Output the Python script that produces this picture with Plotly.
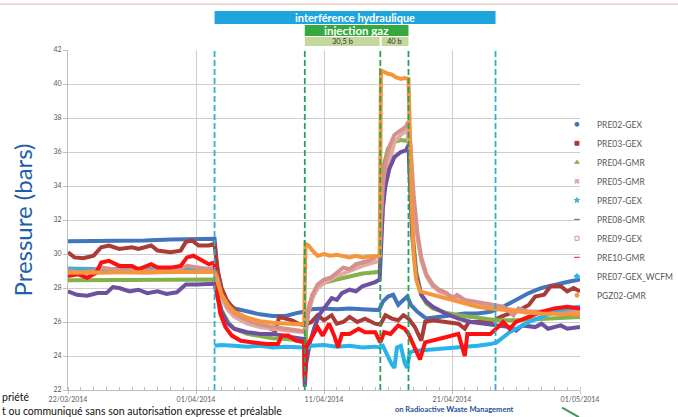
import pandas as pd
import plotly.graph_objects as go

START = pd.Timestamp("2014-03-22")

# ---- events (days after 22/03/2014 00:00) ----
interference = [11.45, 33.4]          # interférence hydraulique
injection = [18.5, 24.4, 26.6]         # start 30,5 b / start 40 b / end
stage_labels = ["30,5 b", "40 b"]
cyan_events = [11.45, 33.4]
green_events = [18.5, 24.4, 26.6]

# ---- series: day offsets and pressures (bar) ----
pre02_d = [0, 2, 4, 6, 8, 10, 11.45, 11.6, 11.8, 12.1, 12.5, 13, 14, 15, 16, 17, 18, 18.45, 19, 20, 21, 22, 23, 24.3,
           24.6, 25, 25.4, 25.8, 26.2, 26.5, 26.8, 27.3, 28, 29, 30, 31, 32, 33, 34, 35, 36, 37, 38, 39, 40]
pre02_v = [30.75, 30.75, 30.8, 30.8, 30.85, 30.85, 30.9, 29.5, 28.5, 27.6, 27.1, 26.8, 26.6, 26.45, 26.35, 26.35, 26.55,
           26.6, 26.75, 26.8, 26.75, 26.8, 26.75, 26.7, 27.2, 27.5, 27.6, 27.0, 27.3, 27.5, 27.0, 26.6, 26.2, 26.3, 26.4,
           26.5, 26.5, 26.6, 26.9, 27.3, 27.7, 28.0, 28.2, 28.35, 28.5]

pre03_d = [0, 0.5, 1.2, 2, 2.6, 3.2, 4, 5, 5.5, 6.5, 7, 8, 8.8, 9.2, 9.7, 10.2, 11, 11.45, 11.7, 12, 12.4, 13, 13.6,
           14.5, 15.5, 16.2, 16.5, 17, 17.5, 18, 18.45, 19, 19.5, 20, 20.6, 21, 21.5, 22, 22.6, 23.2, 24, 24.4, 24.8,
           25.3, 25.8, 26.2, 26.6, 27.1, 27.6, 27.9, 28.5, 29.5, 30.5, 31, 31.3, 32, 33, 33.8, 34.5, 35.5, 36, 36.5,
           37.2, 37.7, 38.5, 39, 39.5, 40]
pre03_v = [30.1, 29.8, 29.75, 29.9, 30.4, 30.5, 30.3, 30.4, 30.3, 30.5, 30.2, 30.1, 30.2, 30.7, 30.8, 30.5, 30.5, 30.6,
           29.0, 28.0, 27.3, 26.7, 26.3, 25.9, 25.7, 25.5, 26.3, 26.2, 26.1, 25.9, 25.8, 26.0, 26.4, 26.1, 26.4, 25.9,
           26.0, 26.3, 26.0, 26.2, 25.9, 25.85, 26.4, 26.2, 26.1, 26.4, 26.2, 25.7, 24.9, 26.0, 26.1, 26.0, 25.9, 25.6,
           26.0, 26.0, 26.0, 26.3, 26.5, 26.8, 27.0, 27.5, 27.6, 28.1, 28.1, 27.8, 28.0, 27.8]

pre04_d = [0, 3, 6, 9, 11.45, 11.7, 12, 12.5, 13, 14, 15, 16, 17, 18, 18.45, 18.5, 18.6, 18.8, 19.1, 19.5, 20, 21, 22,
           23, 24.35, 24.5, 24.7, 25, 25.5, 26, 26.5, 26.6, 26.7, 26.9, 27.2, 27.6, 28, 28.5, 29.5, 30.5, 32, 33.5, 35,
           36.5, 38, 40]
pre04_v = [28.45, 28.45, 28.5, 28.5, 28.5, 27.5, 26.7, 26.0, 25.6, 25.3, 25.15, 25.05, 25.0, 24.95, 24.9, 22.4, 25.5,
           26.8, 27.6, 28.0, 28.3, 28.5, 28.7, 28.85, 28.95, 33.5, 35.3, 36.2, 36.6, 36.7, 36.65, 37.1, 35.0, 31.5, 29.0,
           27.6, 27.1, 26.8, 26.55, 26.4, 26.25, 26.1, 26.1, 26.15, 26.2, 26.3]

pre05_d = [0, 2, 4, 6, 8, 10, 11.45, 11.7, 12, 12.5, 13, 14, 15, 16, 17, 18, 18.45, 18.8, 19.1, 19.5, 20, 21, 22, 23,
           24.35, 24.5, 24.7, 25, 25.5, 26, 26.5, 26.7, 27, 27.3, 27.6, 28, 28.5, 29, 30, 31, 32, 33, 34, 35, 36, 38, 40]
pre05_v = [28.95, 28.9, 28.95, 28.9, 28.95, 29.0, 29.0, 28.3, 27.4, 26.7, 26.3, 25.9, 25.7, 25.6, 25.5, 25.45, 25.4,
           26.6, 27.4, 28.0, 28.3, 28.7, 29.0, 29.3, 29.6, 31.5, 33.6, 35.0, 36.6, 37.0, 37.3, 36.0, 33.0, 31.0, 29.6,
           28.7, 28.1, 27.8, 27.5, 27.2, 27.1, 26.9, 26.8, 26.7, 26.6, 26.6, 26.6]

pre07_d = [0, 3, 6, 9, 11.45]
pre07_v = [29.15, 29.1, 29.15, 29.1, 29.15]

pre08_d = [0, 0.7, 1.5, 2.3, 3, 3.5, 4, 4.8, 5.5, 6.2, 7, 7.7, 8.5, 9.2, 10, 11, 11.45, 11.7, 12, 12.5, 13, 14, 15, 16,
           17, 18, 18.45, 18.5, 18.6, 18.9, 19.3, 19.7, 20.2, 20.6, 21, 21.4, 22, 22.5, 23, 23.5, 24, 24.35, 24.45, 24.6,
           24.8, 25.1, 25.5, 26, 26.4, 26.6, 26.7, 26.9, 27.2, 27.6, 28, 28.5, 29.5, 30.5, 31.5, 32.5, 33.5, 34.5, 35,
           35.5, 36.5, 37, 37.5, 38.5, 39, 40]
pre08_v = [27.8, 27.6, 27.55, 27.7, 27.7, 28.05, 28.0, 27.8, 27.9, 27.7, 27.8, 27.65, 27.75, 28.2, 28.2, 28.2, 28.25,
           27.4, 26.6, 25.9, 25.6, 25.4, 25.3, 25.3, 25.15, 25.05, 25.0, 22.2, 23.5, 24.8, 25.8, 26.5, 27.0, 27.4, 27.3,
           27.7, 27.9, 27.8, 28.1, 28.2, 28.35, 28.5, 31.0, 32.8, 34.0, 35.0, 35.7, 36.0, 36.1, 36.4, 34.5, 31.0, 28.8,
           27.6, 27.2, 26.9, 26.5, 26.2, 26.0, 25.9, 25.8, 25.7, 25.5, 25.8, 25.7, 25.9, 25.6, 25.8, 25.6, 25.7]

pre09_d = [0, 1, 2, 2.6, 3.5, 4.5, 5.5, 6.5, 7.5, 8.5, 9.3, 10, 11, 11.45, 11.7, 12, 12.5, 13, 14, 15, 16, 17, 18,
           18.45, 18.6, 18.8, 19.1, 19.5, 20, 20.5, 21, 21.5, 22, 22.5, 23, 23.5, 24, 24.35, 24.45, 24.6, 24.8, 25.1,
           25.5, 26, 26.4, 26.6, 26.75, 27, 27.3, 27.6, 28, 28.5, 29, 29.6, 30, 30.4, 31, 31.8, 32.5, 33.3, 34, 34.5,
           34.8, 35.2, 36, 37, 38, 39, 40]
pre09_v = [29.0, 28.9, 29.0, 29.2, 29.1, 29.0, 29.1, 29.0, 29.1, 29.0, 29.3, 29.2, 29.1, 29.2, 28.5, 27.6, 26.9, 26.5,
           26.1, 25.85, 25.7, 25.6, 25.5, 25.45, 25.8, 26.8, 27.6, 28.2, 28.5, 28.6, 28.9, 29.2, 29.1, 29.4, 29.5, 29.6,
           29.8, 29.9, 32.0, 34.0, 35.3, 36.3, 37.0, 37.3, 37.5, 37.8, 36.5, 33.5, 31.2, 29.8, 28.8, 28.2, 27.9, 27.7,
           27.4, 27.6, 27.3, 27.2, 27.1, 27.0, 26.9, 26.6, 26.4, 26.8, 26.6, 26.6, 26.7, 26.7, 26.75]

pre10_d = [0, 0.8, 1.5, 2.2, 2.6, 3.2, 4, 5, 5.5, 6.5, 7, 8, 8.8, 9.3, 9.8, 10.5, 11, 11.45, 11.6, 11.9, 12.3, 12.8,
           13.5, 14.5, 15.5, 16.4, 16.7, 17.2, 17.8, 18.45, 18.5, 18.6, 19, 19.5, 19.9, 20.4, 20.8, 21.1, 21.4, 22, 22.7,
           23.2, 24, 24.4, 24.7, 25.2, 25.8, 26.3, 26.6, 27, 27.5, 27.9, 28.5, 29.5, 30.5, 31, 31.2, 32, 33, 33.6, 34,
           34.5, 35, 36, 37, 38, 39, 40]
pre10_v = [28.7, 28.8, 28.6, 28.9, 29.5, 29.6, 29.3, 29.3, 29.1, 29.4, 29.2, 29.2, 29.3, 29.8, 29.9, 29.6, 29.4, 29.5,
           28.0, 26.5, 25.7, 25.2, 24.9, 24.8, 24.7, 24.7, 25.2, 25.2, 24.9, 24.8, 22.6, 24.5, 25.0, 25.7, 25.2, 25.9,
           25.2, 24.5, 25.3, 25.3, 25.6, 25.4, 25.4, 24.8, 25.4, 25.3, 25.8, 25.6, 25.3, 24.6, 23.8, 24.8, 24.9, 25.1,
           25.3, 24.0, 25.3, 25.3, 25.3, 25.7, 26.0, 25.6, 26.0, 26.3, 26.6, 26.8, 26.9, 26.8]

wcfm_d = [11.45, 12, 13, 14, 15, 16, 17, 18, 18.45, 18.6, 19, 20, 21, 22, 23, 24, 24.35, 24.6, 25, 25.3, 25.5, 25.7,
          26, 26.3, 26.5, 26.7, 27, 28, 29, 30, 31, 32, 33, 33.5, 34, 34.5, 35, 35.5, 36, 37, 38, 39, 40]
wcfm_v = [24.6, 24.65, 24.6, 24.55, 24.6, 24.5, 24.55, 24.5, 24.5, 24.4, 24.6, 24.65, 24.55, 24.6, 24.5, 24.55, 24.5,
          24.6, 23.9, 23.5, 23.3, 24.5, 24.6, 23.6, 23.3, 24.2, 24.3, 24.35, 24.4, 24.5, 24.5, 24.6, 24.7, 24.8, 25.1,
          25.4, 25.6, 25.8, 26.0, 26.3, 26.6, 26.8, 26.9]

pgz02_d = [0, 2, 4, 6, 8, 10, 11.45, 11.7, 12, 12.5, 13, 14, 15, 16, 17, 18, 18.45, 18.55, 18.8, 19.1, 19.5, 20, 20.5,
           21, 22, 22.5, 23, 23.5, 24, 24.35, 24.45, 24.7, 25, 25.3, 25.6, 26, 26.3, 26.6, 26.7, 26.85, 27.0, 27.2,
           27.5, 28, 29, 30, 31, 32, 33, 34, 35, 36, 37, 38, 40]
pgz02_v = [28.9, 28.9, 28.95, 28.9, 28.9, 28.95, 28.95, 28.3, 27.6, 27.0, 26.6, 26.25, 26.05, 25.95, 25.9, 25.85, 25.85,
           30.6, 30.5, 30.2, 29.9, 30.0, 29.9, 29.95, 29.8, 29.9, 29.8, 29.85, 29.9, 29.9, 40.8, 40.7, 40.6, 40.55,
           40.4, 40.3, 40.35, 40.3, 37.0, 33.0, 30.0, 28.5, 27.8, 27.7, 27.55, 27.3, 27.1, 26.9, 26.8, 26.7, 26.6,
           26.55, 26.5, 26.5, 26.45]

series_names = ["PRE02-GEX", "PRE03-GEX", "PRE04-GMR", "PRE05-GMR", "PRE07-GEX", "PRE08-GMR",
                "PRE09-GEX", "PRE10-GMR", "PRE07-GEX_WCFM", "PGZ02-GMR"]

y_ticks = [22, 24, 26, 28, 30, 32, 34, 36, 38, 40, 42]


def to_time(days):
    return [START + pd.Timedelta(days=float(d)) for d in days]


def ts(d):
    return str(START + pd.Timedelta(days=float(d)))


series = {
    "PRE02-GEX": (pre02_d, pre02_v),
    "PRE03-GEX": (pre03_d, pre03_v),
    "PRE04-GMR": (pre04_d, pre04_v),
    "PRE05-GMR": (pre05_d, pre05_v),
    "PRE07-GEX": (pre07_d, pre07_v),
    "PRE08-GMR": (pre08_d, pre08_v),
    "PRE09-GEX": (pre09_d, pre09_v),
    "PRE10-GMR": (pre10_d, pre10_v),
    "PRE07-GEX_WCFM": (wcfm_d, wcfm_v),
    "PGZ02-GMR": (pgz02_d, pgz02_v),
}
style = {
    "PRE02-GEX": ("#4275BA", "circle"),
    "PRE03-GEX": ("#AA3C37", "square"),
    "PRE04-GMR": ("#86B04A", "triangle-up"),
    "PRE05-GMR": ("#E3AAA3", "x"),
    "PRE07-GEX": ("#4BACC6", "star"),
    "PRE08-GMR": ("#6E50A0", "line-ew"),
    "PRE09-GEX": ("#D7918C", "square-open"),
    "PRE10-GMR": ("#FF1010", "line-ew"),
    "PRE07-GEX_WCFM": ("#28B4EB", "cross"),
    "PGZ02-GMR": ("#F5963C", "circle"),
}
draw_order = ["PRE02-GEX", "PRE03-GEX", "PRE04-GMR", "PRE05-GMR", "PRE07-GEX", "PRE08-GMR",
              "PRE09-GEX", "PRE07-GEX_WCFM", "PRE10-GMR", "PGZ02-GMR"]

fig = go.Figure()
for name in draw_order:
    d, v = series[name]
    fig.add_trace(go.Scatter(x=to_time(d), y=v, mode="lines", name=name, showlegend=False,
                             line=dict(color=style[name][0], width=4)))
for name in series_names:
    col, sym = style[name]
    fig.add_trace(go.Scatter(x=[None], y=[None], mode="markers", name=name,
                             marker=dict(symbol=sym, size=4, color=col,
                                         line=dict(color=col, width=1))))

shapes = []
for d in cyan_events:
    shapes.append(dict(type="line", xref="x", yref="paper", x0=ts(d), x1=ts(d), y0=0, y1=1,
                       line=dict(color="#35AECB", width=1.8, dash="6px,3px")))
for d in green_events:
    shapes.append(dict(type="line", xref="x", yref="paper", x0=ts(d), x1=ts(d), y0=0, y1=1,
                       line=dict(color="#1FA35E", width=1.8, dash="6px,3px")))

# banners above the plot (paper y: (390 - pixel) / 340)
shapes.append(dict(type="rect", xref="x", yref="paper", x0=ts(interference[0]), x1=ts(interference[1]),
                   y0=1.0765, y1=1.1147, fillcolor="#1EA5DD", line=dict(width=0)))
shapes.append(dict(type="rect", xref="x", yref="paper", x0=ts(injection[0]), x1=ts(injection[2]),
                   y0=1.0412, y1=1.0735, fillcolor="#35A83E", line=dict(width=0)))
shapes.append(dict(type="rect", xref="x", yref="paper", x0=ts(injection[0]), x1=ts(injection[1] - 0.05),
                   y0=1.0118, y1=1.0382, fillcolor="#C4D89C", line=dict(width=0)))
shapes.append(dict(type="rect", xref="x", yref="paper", x0=ts(injection[1] + 0.1), x1=ts(injection[2]),
                   y0=1.0118, y1=1.0382, fillcolor="#C4D89C", line=dict(width=0)))
# slide decorations
shapes.append(dict(type="line", xref="paper", yref="paper", x0=-0.133, x1=1.192, y0=1.135, y1=1.135,
                   line=dict(color="#D8B8A8", width=1)))
shapes.append(dict(type="line", xref="paper", yref="paper", x0=0.965, x1=0.998, y0=-0.052, y1=-0.08,
                   line=dict(color="#3E9A5A", width=2)))

annotations = [
    dict(xref="x", yref="paper", x=ts((interference[0] + interference[1]) / 2), y=1.0956,
         xanchor="center", yanchor="middle",
         text="<b>interférence hydraulique</b>", showarrow=False,
         font=dict(family="Lato", size=11, color="white")),
    dict(xref="x", yref="paper", x=ts((injection[0] + injection[2]) / 2), y=1.0574,
         xanchor="center", yanchor="middle",
         text="<b>injection gaz</b>", showarrow=False,
         font=dict(family="Lato", size=11.5, color="white")),
    dict(xref="x", yref="paper", x=ts((injection[0] + injection[1]) / 2), y=1.025,
         xanchor="center", yanchor="middle",
         text=stage_labels[0], showarrow=False, font=dict(family="Lato", size=7.5, color="#333333")),
    dict(xref="x", yref="paper", x=ts((injection[1] + injection[2]) / 2), y=1.025,
         xanchor="center", yanchor="middle",
         text=stage_labels[1], showarrow=False, font=dict(family="Lato", size=7.5, color="#333333")),
    dict(xref="paper", yref="paper", x=-0.133, y=-0.0205, xanchor="left", yanchor="middle",
         text="priété", showarrow=False, font=dict(family="Lato", size=10.5, color="#111111")),
    dict(xref="paper", yref="paper", x=-0.133, y=-0.0605, xanchor="left", yanchor="middle",
         text="t ou communiqué sans son autorisation expresse et préalable", showarrow=False,
         font=dict(family="Lato", size=10.5, color="#111111")),
    dict(xref="paper", yref="paper", x=0.755, y=-0.058, xanchor="center", yanchor="middle",
         text="<b>on Radioactive Waste Management</b>", showarrow=False,
         font=dict(family="Lato", size=7.5, color="#1F4E9C")),
]

fig.update_layout(
    width=678, height=417,
    margin=dict(l=68, r=98, t=50, b=27, autoexpand=False),
    paper_bgcolor="white", plot_bgcolor="white",
    showlegend=True,
    legend=dict(x=0.955, y=0.53, xanchor="left", yanchor="middle", bgcolor="rgba(0,0,0,0)",
                font=dict(family="Lato", size=8.5, color="#595959"), itemwidth=30),
    shapes=shapes, annotations=annotations,
    font=dict(family="Lato"),
)
fig.update_xaxes(
    type="date", range=[str(START), "2014-05-01"], automargin=False,
    tick0=str(START), dtick=10 * 86400000, tickformat="%d/%m/%Y",
    tickfont=dict(size=7, color="#595959"),
    showgrid=True, gridcolor="#CFCFCF", gridwidth=1,
    showline=True, linecolor="#BFBFBF", linewidth=1,
    ticks="outside", ticklen=3, tickcolor="#BFBFBF",
    minor=dict(dtick=86400000, ticks="inside", ticklen=3, tickcolor="#BFBFBF", showgrid=False),
    zeroline=False,
)
fig.update_yaxes(
    range=[22, 42], tickvals=y_ticks, automargin=False,
    tickfont=dict(size=7, color="#595959"),
    showgrid=True, gridcolor="#CFCFCF", gridwidth=1,
    showline=True, linecolor="#BFBFBF", linewidth=1,
    ticks="outside", ticklen=4, tickcolor="#BFBFBF",
    zeroline=False,
    title=dict(text="Pressure (bars)", font=dict(family="Lato", size=24, color="#1F5FAA"), standoff=14),
)

fig.write_html("out.html", config={"displayModeBar": False},
               post_script="document.body.style.margin='0px';")
